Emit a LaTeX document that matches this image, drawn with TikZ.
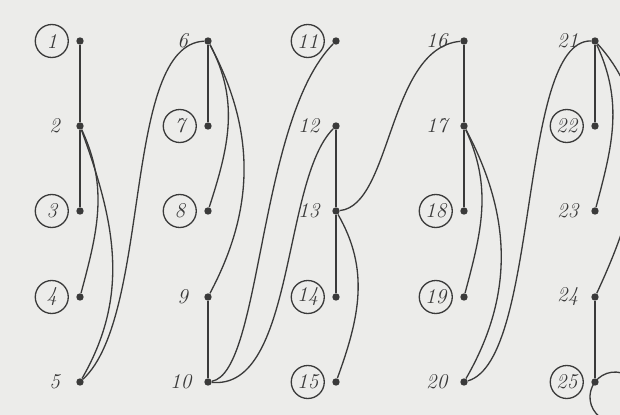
\documentclass[tikz,border=0pt]{standalone}
\usetikzlibrary{positioning}
\definecolor{chartInk}{HTML}{3a3a3a}
\definecolor{chartPaper}{HTML}{ececea}
\tikzset{
  dot/.style={circle, fill=chartInk, inner sep=0pt, minimum size=4.2pt},
  num/.style={font=\large\itshape, text=chartInk, inner sep=1pt,
              minimum width=12pt},
  cnum/.style={circle, draw=chartInk, line width=0.75pt, font=\large\itshape,
              text=chartInk, minimum size=0.66cm, inner sep=0pt},
  stem/.style={draw=chartInk, line width=1.4pt},
  link/.style={draw=chartInk, line width=0.75pt},
}

\begin{document}
\begin{tikzpicture}[x=0.02cm,y=0.02cm]
  \fill[chartPaper] (0,0) rectangle (620,-415);
  \useasboundingbox (0,0) rectangle (620,-415);
  % five columns of five points
  \foreach \x [count=\c from 0] in {80,208,336,464,595}
    \foreach \y [count=\r] in {41,126,211,297,382}{
      \pgfmathtruncatemacro\n{5*\c+\r}
      \node[dot] (d\n) at (\x,-\y) {};}
  \foreach \n in {1,3,4,7,8,11,14,15,18,19,22,25}
    \node[cnum, left=4pt of d\n] (l\n) {\n};
  \foreach \n in {2,5,6,9,10,12,13,16,17,20,21,23,24}
    \node[num, left=6pt of d\n] (l\n) {\n};
  % straight stems
  \draw[stem] (d1) -- (d2) -- (d3);
  \draw[stem] (d6) -- (d7);
  \draw[stem] (d9) -- (d10);
  \draw[stem] (d12) -- (d13) -- (d14);
  \draw[stem] (d16) -- (d17) -- (d18);
  \draw[stem] (d21) -- (d22);
  \draw[stem] (d24) -- (d25);
  % bends inside a column
  \draw[link] (d2) to[out=-65,in=75] (d4);
  \draw[link] (d2) to[out=-70,in=60] (d5);
  \draw[link] (d6) to[out=-62,in=72] (d8);
  \draw[link] (d6) to[out=-62,in=62] (d9);
  \draw[link] (d13) to[out=-60,in=70] (d15);
  \draw[link] (d17) to[out=-65,in=75] (d19);
  \draw[link] (d17) to[out=-62,in=60] (d20);
  \draw[link] (d21) to[out=-65,in=75] (d23);
  \draw[link] (d21) to[out=-48,in=65] (d24);
  % bends across columns
  \draw[link] (d6) .. controls (122,-45) and (152,-315) .. (d5);
  \draw[link] (d11) .. controls (258,-120) and (262,-372) .. (d10);
  \draw[link] (d12) .. controls (282,-180) and (295,-390) .. (d10);
  \draw[link] (d13) .. controls (392,-205) and (388,-48) .. (d16);
  \draw[link] (d21) .. controls (518,-40) and (540,-360) .. (d20);
  \draw[link] (d25.center) arc[start angle=143, delta angle=-360, radius=25];
\end{tikzpicture}
\end{document}
